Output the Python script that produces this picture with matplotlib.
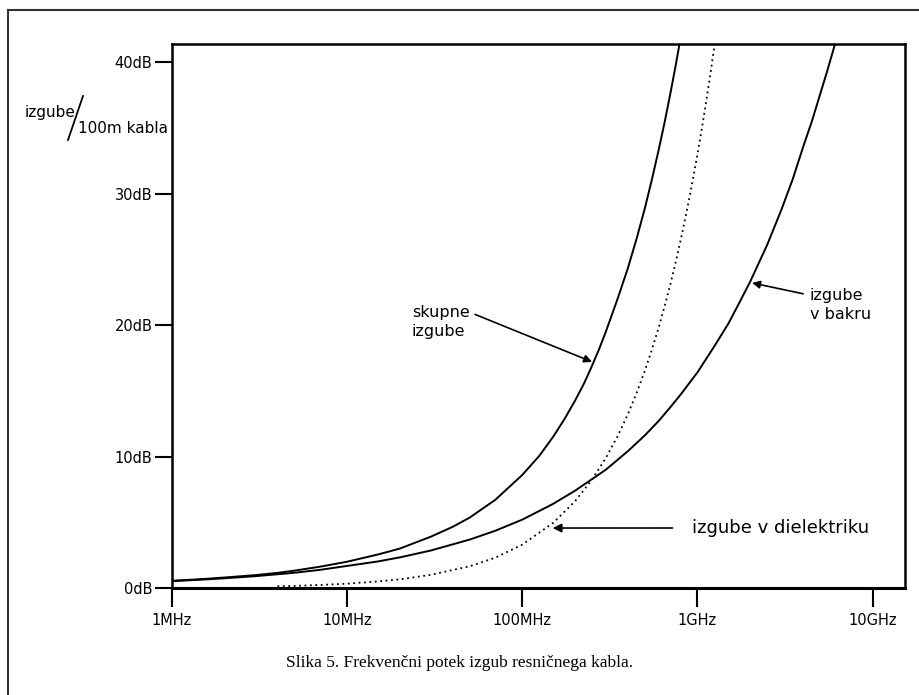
import matplotlib.pyplot as plt
from matplotlib.lines import Line2D

# Values (frequency in MHz, loss in dB / 100 m)
freq_total = [1, 1.5, 2, 3, 4, 5, 7, 10, 15, 20, 30, 40, 50, 70, 100, 125,
              150, 175, 200, 225, 250, 275, 300, 350, 400, 450, 500, 550, 600,
              650, 700, 750, 800, 850]
loss_total = [0.55, 0.68, 0.80, 0.98, 1.15, 1.32, 1.62, 2.0, 2.55, 3.0, 3.9,
              4.65, 5.35, 6.7, 8.6, 10.05, 11.5, 12.9, 14.25, 15.55, 16.9,
              18.2, 19.5, 22.0, 24.3, 26.6, 28.85, 31.1, 33.3, 35.45, 37.6,
              39.7, 41.8, 43.9]

freq_copper = [1, 1.5, 2, 3, 5, 7, 10, 15, 20, 30, 50, 70, 100, 150, 200,
               300, 400, 500, 600, 700, 800, 1000, 1250, 1500, 1750, 2000,
               2500, 3000, 3500, 4000, 4500, 5000, 5500, 6000, 6500]
loss_copper = [0.52, 0.64, 0.74, 0.90, 1.16, 1.38, 1.68, 2.02, 2.33, 2.85,
               3.68, 4.35, 5.2, 6.4, 7.4, 9.0, 10.4, 11.6, 12.7, 13.75, 14.7,
               16.4, 18.4, 20.1, 21.8, 23.3, 26.1, 28.7, 31.1, 33.5, 35.5,
               37.5, 39.3, 41.05, 42.7]

freq_diel = [4, 5, 7, 10, 15, 20, 30, 50, 70, 100, 150, 200, 250, 300, 350,
             400, 450, 500, 550, 600, 650, 700, 750, 800, 850, 900, 950, 1000,
             1050, 1100, 1150, 1200, 1250, 1300]
loss_diel = [0.13, 0.16, 0.23, 0.33, 0.5, 0.66, 1.0, 1.65, 2.3, 3.3, 4.95,
             6.6, 8.25, 9.9, 11.55, 13.2, 14.85, 16.5, 18.15, 19.8, 21.45,
             23.1, 24.75, 26.4, 28.05, 29.7, 31.35, 33.0, 34.65, 36.3, 37.95,
             39.6, 41.25, 42.9]

x_ticks = [1, 10, 100, 1000, 10000]
x_labels = ["1MHz", "10MHz", "100MHz", "1GHz", "10GHz"]
y_ticks = [0, 10, 20, 30, 40]
y_labels = ["0dB", "10dB", "20dB", "30dB", "40dB"]

W, H = 920, 695


def fx(px):
    return px / W


def fy(py):
    return 1 - py / H


fig = plt.figure(figsize=(9.2, 6.95), dpi=100)
ax = fig.add_axes([fx(172), fy(588), fx(905) - fx(172), fy(44) - fy(588)])

ax.plot(freq_total, loss_total, color="black", lw=1.4)
ax.plot(freq_copper, loss_copper, color="black", lw=1.4)
ax.plot(freq_diel, loss_diel, color="black", lw=1.3, linestyle=(0, (1, 2)))

ax.set_xscale("log")
ax.set_xlim(1, 15300)
ax.set_ylim(0, 41.37)
ax.minorticks_off()
ax.set_xticks(x_ticks)
ax.set_xticklabels(x_labels)
ax.set_yticks(y_ticks)
ax.set_yticklabels(y_labels)
ax.tick_params(axis="x", direction="out", length=14, width=1.5, pad=4,
               labelsize=10.5)
ax.tick_params(axis="y", direction="out", length=12, width=1.5, pad=2,
               labelsize=10.5)
for s in ax.spines.values():
    s.set_linewidth(1.8)
ax.spines["bottom"].set_linewidth(2.2)

# axis title
fig.text(fx(25), fy(117), "izgube", fontsize=11, va="baseline")
fig.add_artist(Line2D([fx(68), fx(83)], [fy(140), fy(96)], color="black",
                      lw=1.3))
fig.text(fx(78), fy(133), "100m kabla", fontsize=11, va="baseline")

# annotations
ax.annotate("skupne\nizgube", xy=(250, 17.2), xycoords="data",
            xytext=(fx(412), fy(322)), textcoords="figure fraction",
            fontsize=11.5, ha="left", va="center", linespacing=1.4,
            arrowprops=dict(arrowstyle="-|>", color="black", lw=1.2,
                            shrinkA=2, shrinkB=0, relpos=(1.0, 0.78)))
ax.annotate("izgube\nv bakru", xy=(2050, 23.2), xycoords="data",
            xytext=(fx(810), fy(305)), textcoords="figure fraction",
            fontsize=11.5, ha="left", va="center", linespacing=1.4,
            arrowprops=dict(arrowstyle="-|>", color="black", lw=1.2,
                            shrinkA=3, shrinkB=0, relpos=(0.0, 0.78)))
ax.annotate("izgube v dielektriku", xy=(149, 4.56), xycoords="data",
            xytext=(fx(692), fy(528)), textcoords="figure fraction",
            fontsize=13, ha="left", va="center",
            arrowprops=dict(arrowstyle="-|>", color="black", lw=1.2,
                            shrinkA=12, shrinkB=0, relpos=(0.0, 0.5)))

# caption
fig.text(0.5, fy(663), "Slika 5. Frekvenčni potek izgub resničnega kabla.",
         ha="center", va="center", fontsize=12.5, family="Liberation Serif")

# outer frame of the scan
fig.add_artist(Line2D([fx(8), fx(8)], [fy(10), 0], color="#333333", lw=1.5))
fig.add_artist(Line2D([fx(8), 1], [fy(10), fy(10)], color="#333333", lw=1.5))

plt.savefig("out.png", dpi=100)
